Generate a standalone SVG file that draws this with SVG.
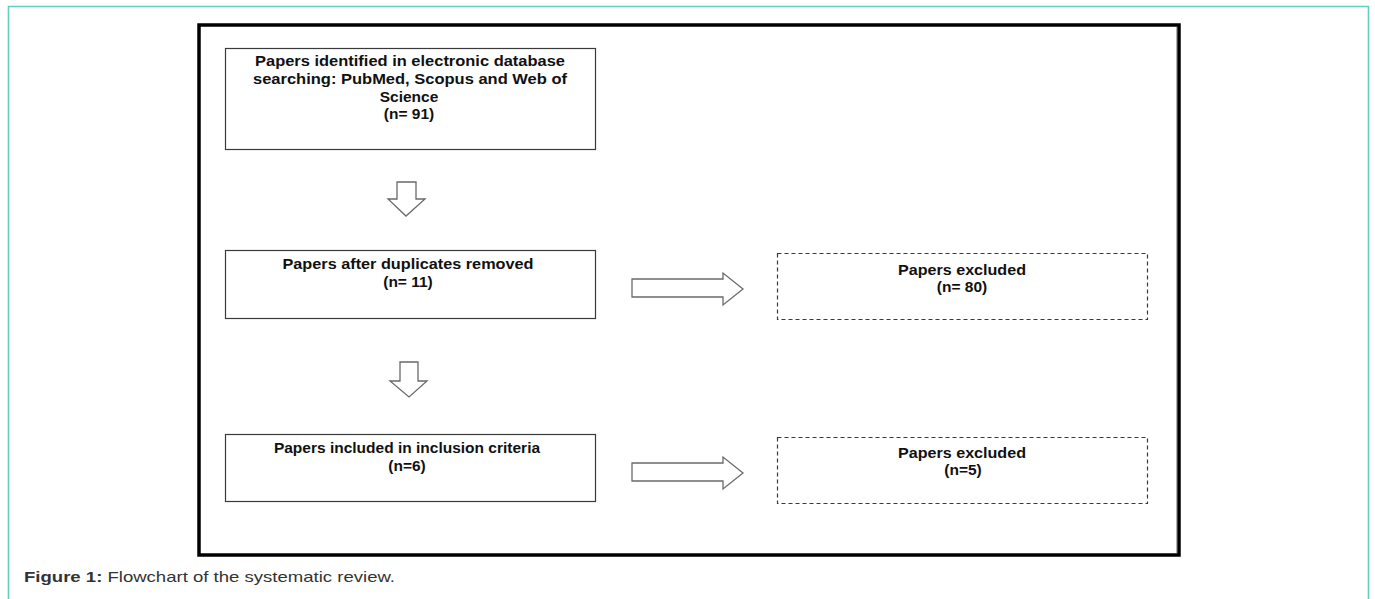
<svg xmlns="http://www.w3.org/2000/svg" width="1375" height="599" viewBox="0 0 1375 599">
  <style>
    .box { fill: #ffffff; stroke: #3a3a3a; stroke-width: 1.2; }
    .dash { fill: #ffffff; stroke: #3a3a3a; stroke-width: 1.2; stroke-dasharray: 4 3; }
    .arrow { fill: #ffffff; stroke: #6a6a6a; stroke-width: 1.3; stroke-linejoin: miter; }
    .t { font-family: "Liberation Sans", Arial, sans-serif; font-weight: bold; font-size: 15.5px; fill: #111111; text-anchor: middle; }
    .cap { font-family: "Liberation Sans", Arial, sans-serif; font-size: 15px; fill: #333333; }
  </style>
  <rect x="0" y="0" width="1375" height="599" fill="#ffffff"/>
  <!-- teal frame -->
  <path d="M8.5 610 L8.5 6.5 L1368.5 6.5 L1368.5 610" fill="none" stroke="#63cdbf" stroke-width="1.6"/>
  <!-- outer black frame -->
  <rect x="199" y="25" width="980" height="530" fill="#ffffff" stroke="#000000" stroke-width="3.5"/>
  <line x1="1176.5" y1="27" x2="1176.5" y2="553" stroke="#b0b0b0" stroke-width="1"/>

  <g id="connectors">
    <path class="arrow" d="M397 182 L416 182 L416 199 L425 199 L406 216 L388 199 L397 199 Z"/>
    <path class="arrow" d="M400 362 L418 362 L418 381 L427 381 L409 397 L390 381 L400 381 Z"/>
    <path class="arrow" d="M632 279 L723 279 L723 273 L743 289 L723 305 L723 297 L632 297 Z"/>
    <path class="arrow" d="M632 463 L723 463 L723 457 L743 473 L723 489 L723 481 L632 481 Z"/>
  </g>

  <g id="node-identified">
    <rect class="box" x="225.5" y="48.5" width="370" height="101"/>
    <text class="t" x="410" y="66" textLength="310" lengthAdjust="spacingAndGlyphs">Papers identified in electronic database</text>
    <text class="t" x="410" y="83.5" textLength="314" lengthAdjust="spacingAndGlyphs">searching: PubMed, Scopus and Web of</text>
    <text class="t" x="409" y="101.5">Science</text>
    <text class="t" x="409" y="119">(n= 91)</text>
  </g>

  <g id="node-duplicates">
    <rect class="box" x="225.5" y="250.5" width="370" height="68"/>
    <text class="t" x="408" y="269" textLength="251" lengthAdjust="spacingAndGlyphs">Papers after duplicates removed</text>
    <text class="t" x="408" y="287">(n= 11)</text>
  </g>

  <g id="node-excluded-80">
    <rect class="dash" x="777.5" y="253.5" width="370" height="66"/>
    <text class="t" x="962" y="275" textLength="128" lengthAdjust="spacingAndGlyphs">Papers excluded</text>
    <text class="t" x="962" y="292">(n= 80)</text>
  </g>

  <g id="node-included">
    <rect class="box" x="225.5" y="434.5" width="370" height="67"/>
    <text class="t" x="407" y="453">Papers included in inclusion criteria</text>
    <text class="t" x="407" y="471">(n=6)</text>
  </g>

  <g id="node-excluded-5">
    <rect class="dash" x="777.5" y="437.5" width="370" height="66"/>
    <text class="t" x="962" y="458" textLength="128" lengthAdjust="spacingAndGlyphs">Papers excluded</text>
    <text class="t" x="963" y="475">(n=5)</text>
  </g>

  <text class="cap" x="24" y="582" textLength="371" lengthAdjust="spacingAndGlyphs"><tspan font-weight="bold">Figure 1:</tspan> Flowchart of the systematic review.</text>
</svg>
